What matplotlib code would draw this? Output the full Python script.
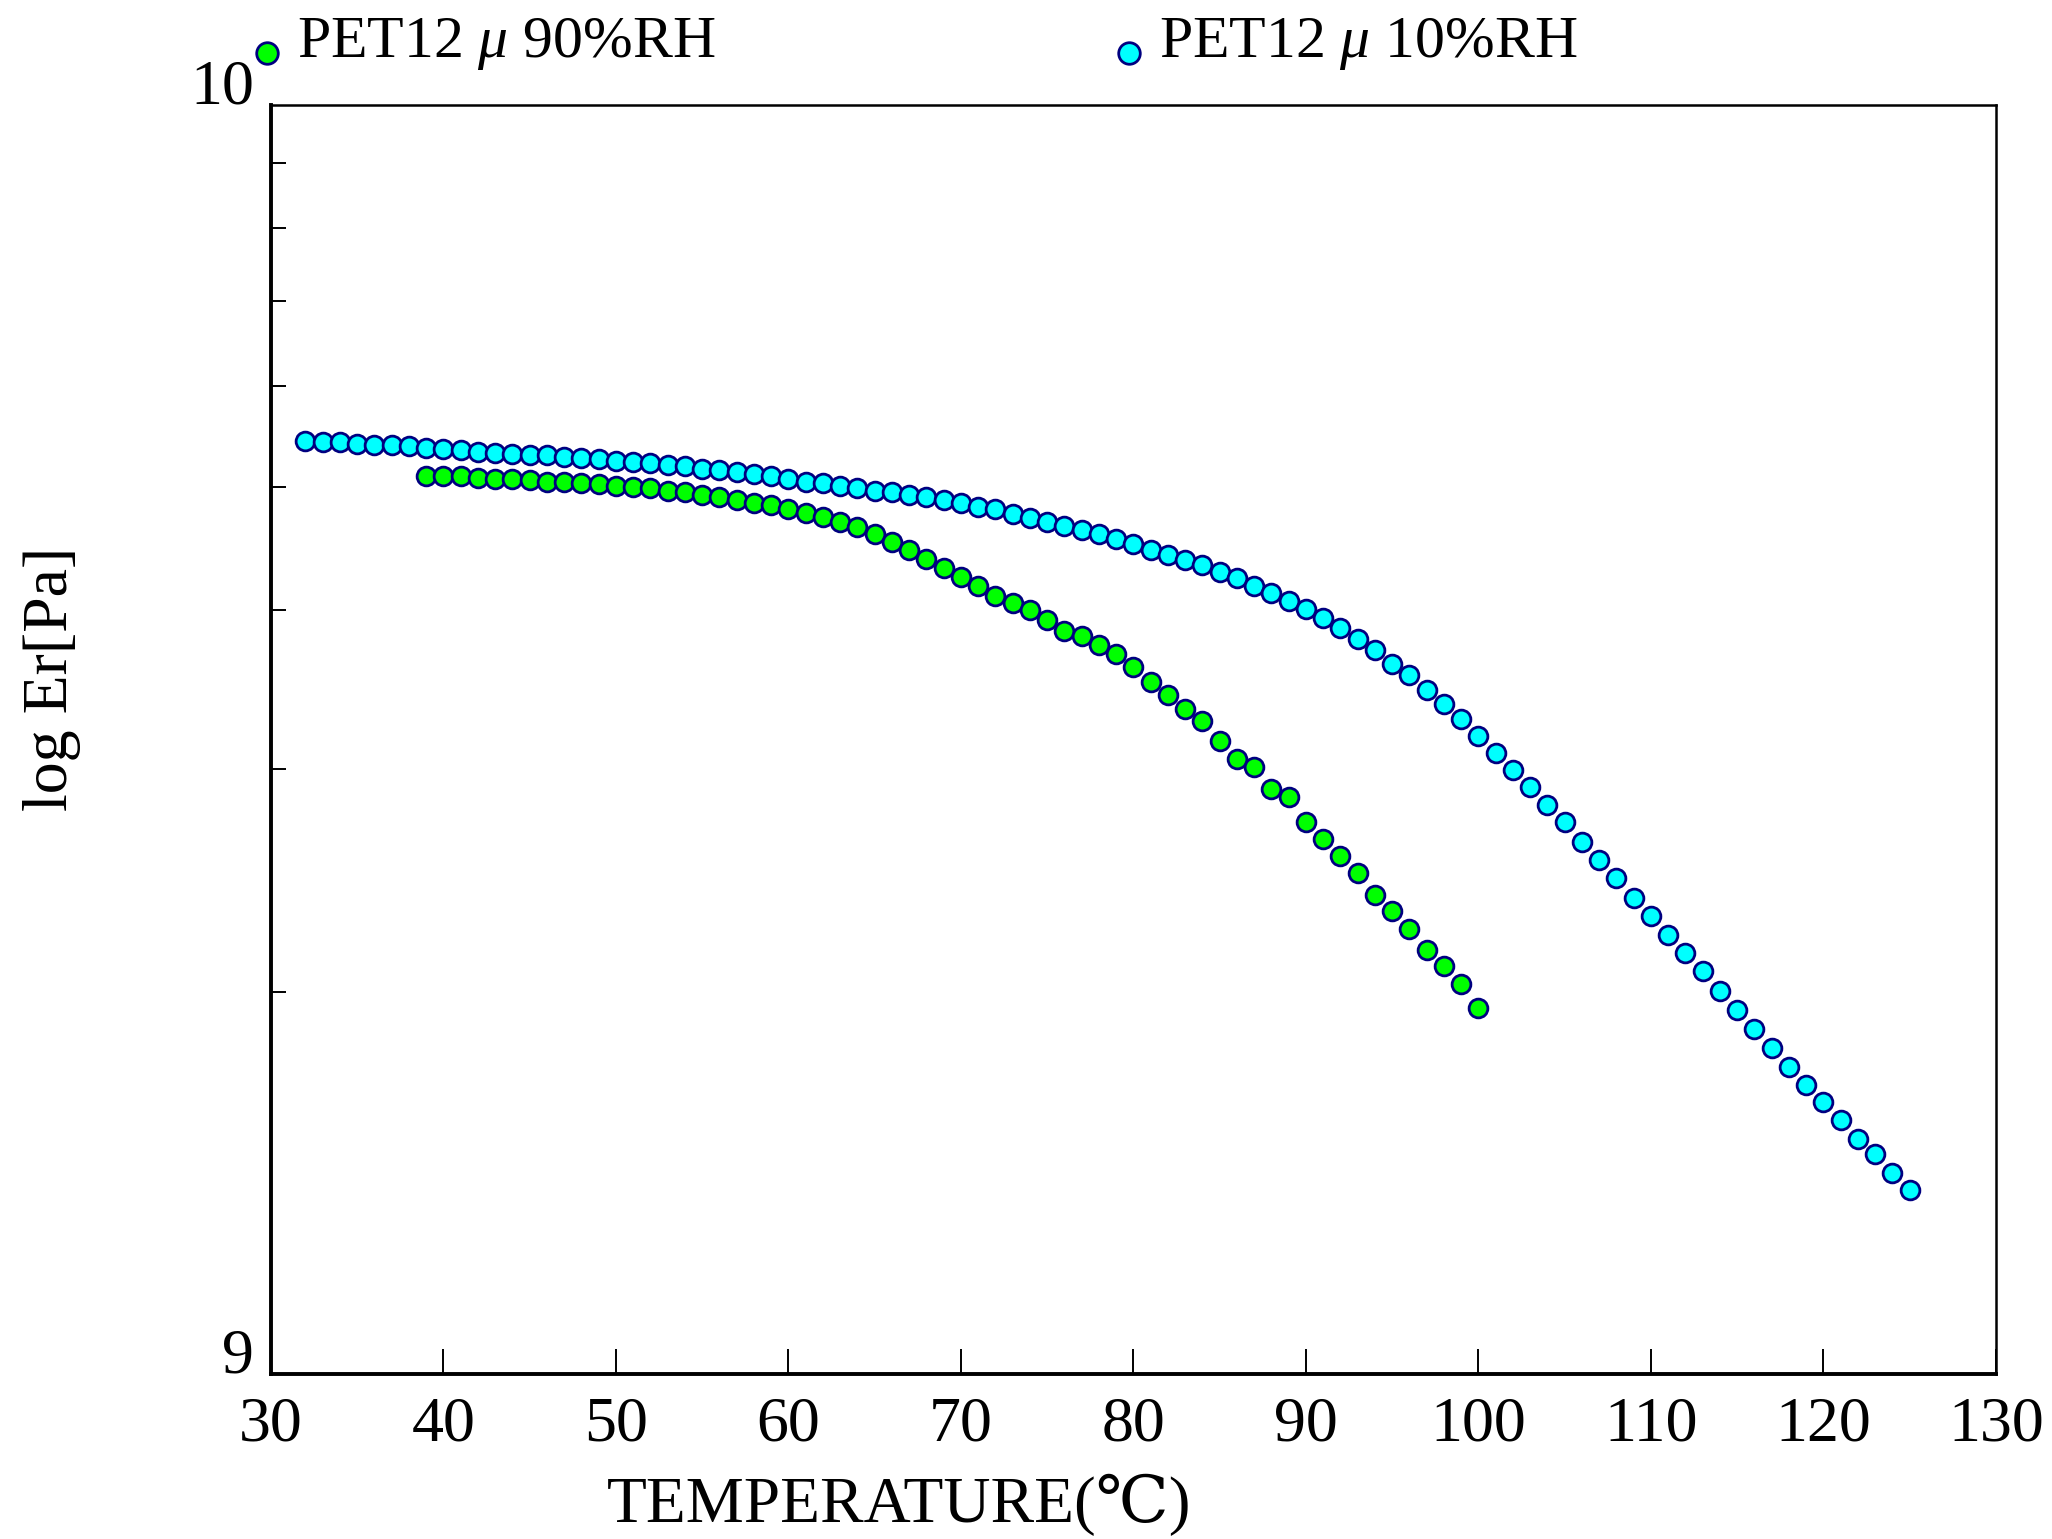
import numpy as np
import matplotlib
matplotlib.use("Agg")
import matplotlib.pyplot as plt
import matplotlib.transforms as mtransforms
from matplotlib.lines import Line2D
from matplotlib.legend_handler import HandlerLine2D
from matplotlib.ticker import FixedLocator, NullFormatter

# ---- data (log10 of Er in Pa) ----
temp_10rh = list(range(32, 126))
logEr_10rh = [
    0.7351, 0.7340, 0.7340, 0.7330, 0.7320, 0.7320, 0.7309, 0.7299, 0.7289, 0.7278,
    0.7268, 0.7258, 0.7247, 0.7237, 0.7237, 0.7227, 0.7216, 0.7206, 0.7196, 0.7186,
    0.7175, 0.7165, 0.7155, 0.7134, 0.7124, 0.7103, 0.7093, 0.7072, 0.7052, 0.7031,
    0.7021, 0.7000, 0.6979, 0.6959, 0.6948, 0.6928, 0.6907, 0.6887, 0.6866, 0.6835,
    0.6814, 0.6773, 0.6742, 0.6711, 0.6680, 0.6649, 0.6619, 0.6577, 0.6536, 0.6495,
    0.6454, 0.6412, 0.6371, 0.6320, 0.6268, 0.6206, 0.6155, 0.6093, 0.6031, 0.5959,
    0.5876, 0.5794, 0.5701, 0.5598, 0.5505, 0.5392, 0.5278, 0.5165, 0.5031, 0.4897,
    0.4763, 0.4629, 0.4485, 0.4351, 0.4196, 0.4052, 0.3907, 0.3753, 0.3608, 0.3464,
    0.3320, 0.3175, 0.3021, 0.2866, 0.2722, 0.2567, 0.2423, 0.2278, 0.2144, 0.2000,
    0.1856, 0.1732, 0.1588, 0.1454,
]
logEr_10rh = [9 + v for v in logEr_10rh]

temp_90rh = list(range(39, 101))
logEr_90rh = [
    0.7072, 0.7072, 0.7072, 0.7062, 0.7052, 0.7052, 0.7041, 0.7031, 0.7031, 0.7021,
    0.7010, 0.7000, 0.6990, 0.6979, 0.6959, 0.6948, 0.6928, 0.6907, 0.6887, 0.6866,
    0.6845, 0.6814, 0.6784, 0.6753, 0.6711, 0.6670, 0.6619, 0.6557, 0.6495, 0.6423,
    0.6351, 0.6278, 0.6206, 0.6134, 0.6072, 0.6021, 0.5938, 0.5856, 0.5814, 0.5742,
    0.5670, 0.5567, 0.5454, 0.5351, 0.5237, 0.5144, 0.4990, 0.4845, 0.4784, 0.4608,
    0.4546, 0.4351, 0.4216, 0.4082, 0.3948, 0.3773, 0.3649, 0.3505, 0.3340, 0.3216,
    0.3072, 0.2887,
]
logEr_90rh = [9 + v for v in logEr_90rh]

label_90 = r"PET12 $\mu$ 90%RH"
label_10 = r"PET12 $\mu$ 10%RH"
xticks = [30, 40, 50, 60, 70, 80, 90, 100, 110, 120, 130]
yticklabels = ["9", "10"]
xlabel = "TEMPERATURE(℃)"
ylabel = "log Er[Pa]"

# ---- style ----
plt.rcParams['font.family'] = ['Liberation Serif', 'DejaVu Serif', 'DejaVu Sans']
plt.rcParams['mathtext.fontset'] = 'custom'
plt.rcParams['mathtext.it'] = 'Liberation Serif:italic'
plt.rcParams['mathtext.rm'] = 'Liberation Serif'

fig = plt.figure(figsize=(20.52, 15.39), dpi=100)
ax = fig.add_axes([0.132, 0.107, 0.8406, 0.825])

mk = dict(linestyle='none', marker='o', markersize=13.5,
          markeredgecolor='#000080', markeredgewidth=2.0)

ax.plot(temp_90rh, [10 ** v for v in logEr_90rh], markerfacecolor='#00ff00', **mk, zorder=3)
ax.plot(temp_10rh, [10 ** v for v in logEr_10rh], markerfacecolor='#00ffff', **mk, zorder=3)

ax.set_yscale('log')
ax.set_xlim(30, 130)
ax.set_ylim(1e9, 1e10)

ax.set_xticks(xticks)
ax.set_xticklabels([str(t) for t in xticks])
ax.yaxis.set_major_locator(FixedLocator([1e9, 1e10]))
ax.set_yticklabels(yticklabels)
ax.yaxis.set_minor_locator(FixedLocator([k * 1e9 for k in range(2, 10)]))
ax.yaxis.set_minor_formatter(NullFormatter())

ax.tick_params(axis='x', which='major', direction='in', length=18, width=1.4,
               labelsize=46, pad=16, top=False)
ax.tick_params(axis='x', which='minor', bottom=False, top=False)
ax.tick_params(axis='y', which='major', length=0, labelsize=46, pad=12, right=False)
ax.tick_params(axis='y', which='minor', direction='in', length=11, width=1.4, right=False)
shift = mtransforms.ScaledTranslation(0, -9 / 72, fig.dpi_scale_trans)
for lab in ax.get_yticklabels():
    lab.set_verticalalignment('bottom')
    lab.set_transform(lab.get_transform() + shift)

for side in ['left', 'bottom']:
    ax.spines[side].set_linewidth(2.8)
for side in ['top', 'right']:
    ax.spines[side].set_linewidth(1.8)

ax.set_xlabel(xlabel, fontsize=47)
ax.xaxis.set_label_coords(0.364, -0.078)
ax.set_ylabel(ylabel, fontsize=46)
ax.yaxis.set_label_coords(-0.11, 0.548)


# ---- legends ----
class LoweredHandler(HandlerLine2D):
    def create_artists(self, legend, orig_handle, xdescent, ydescent, width,
                       height, fontsize, trans):
        arts = super().create_artists(legend, orig_handle, xdescent, ydescent,
                                      width, height, fontsize, trans)
        for a in arts:
            a.set_ydata(np.asarray(a.get_ydata(), float) - 0.28 * fontsize)
        return arts


h90 = Line2D([], [], markerfacecolor='#00ff00', **mk)
h10 = Line2D([], [], markerfacecolor='#00ffff', **mk)
leg_kw = dict(loc='center left', frameon=False, fontsize=43, handlelength=0.5,
              handletextpad=0.25, borderpad=0, borderaxespad=0, markerscale=1.15,
              handler_map={Line2D: LoweredHandler()})
leg1 = ax.legend([h90], [label_90], bbox_to_anchor=(-0.011, 1.048), **leg_kw)
ax.add_artist(leg1)
leg2 = ax.legend([h10], [label_10], bbox_to_anchor=(0.489, 1.048), **leg_kw)

fig.savefig('out.png', dpi=100, facecolor='white')
